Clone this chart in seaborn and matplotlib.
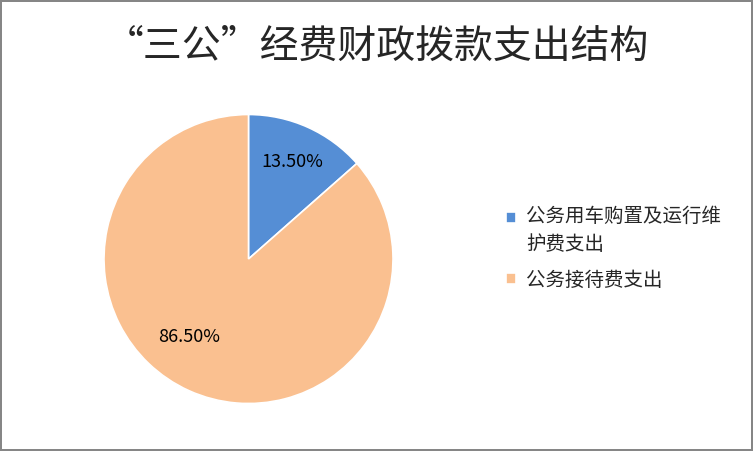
import numpy as np
import matplotlib.pyplot as plt
import seaborn as sns

labels = ["公务用车购置及运行维\n护费支出", "公务接待费支出"]
shares = [13.5, 86.5]
colors = ["#558ED5", "#FAC090"]
title = "“三公”经费财政拨款支出结构"


def main() -> None:
    sns.set_style("white")
    plt.rcParams["font.family"] = ["Noto Sans CJK SC", "DejaVu Sans"]

    fig = plt.figure(figsize=(7.53, 4.51), dpi=100)
    fig.patch.set_edgecolor("#868686")
    fig.patch.set_linewidth(1.5)

    ax = fig.add_axes([104 / 753, 47 / 451, 289 / 753, 290 / 451])
    palette = sns.color_palette(colors)
    wedges, _, autotexts = ax.pie(
        shares,
        colors=palette,
        startangle=90,
        counterclock=False,
        autopct="%.2f%%",
        pctdistance=0.74,
        wedgeprops={"edgecolor": "white", "linewidth": 1.2},
        textprops={"fontsize": 13, "color": "black"},
    )
    # Excel puts the big slice's label a bit off its bisector
    ang = np.deg2rad(-127.5)
    autotexts[1].set_position((0.68 * np.cos(ang), 0.68 * np.sin(ang)))
    ax.set_xlim(-1, 1)
    ax.set_ylim(-1, 1)
    ax.set_aspect("equal")

    fig.text(0.5, 0.897, title, ha="center", va="center", fontsize=28, weight="light")

    leg = fig.legend(
        wedges,
        labels,
        loc="upper left",
        bbox_to_anchor=(506 / 753, 1 - 206 / 451),
        frameon=False,
        fontsize=14,
        handlelength=0.5,
        handleheight=0.5,
        handletextpad=0.55,
        labelspacing=0.75,
        borderpad=0,
        borderaxespad=0,
    )
    for t in leg.get_texts():
        t.set_linespacing(1.45)
    # square sits next to the first line of the wrapped entry
    first = leg.legend_handles[0]
    first.set_y(first.get_y() + 10)

    fig.savefig("out.png", dpi=100, edgecolor=fig.get_edgecolor())


if __name__ == "__main__":
    main()
